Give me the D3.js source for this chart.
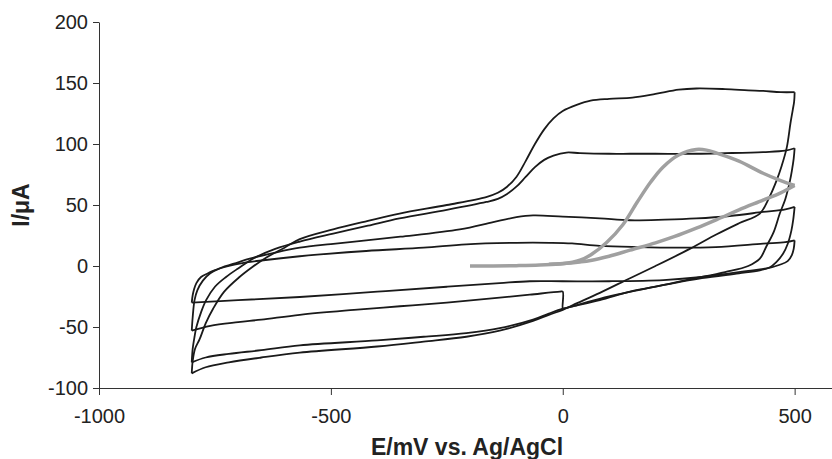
<!DOCTYPE html>
<html>
<head>
<meta charset="utf-8">
<script src="https://cdn.jsdelivr.net/npm/d3@7"></script>
<style>
  body { margin: 0; background: #fff; }
  svg { display: block; }
</style>
</head>
<body>
<script>

// tick values
const xTicks = [-1000, -500, 0, 500];
const yTicks = [-100, -50, 0, 50, 100, 150, 200];

// cyclic voltammograms, [E (mV), I (uA)]
const loopA_anodic = [[-800,-88],[-798,-78],[-793,-68],[-783,-60],[-770,-47],[-754,-35],[-730,-21],[-697,-9],[-670,-1],[-639,7],[-600,15],[-567,22],[-495,30],[-420,37],[-352,43],[-250,50],[-165,56.5],[-140,60],[-120,65],[-100,73],[-80,86],[-60,100],[-40,112],[-20,121],[0,127],[30,132],[60,135.5],[100,137],[150,138],[200,141],[250,144.5],[288,145.5],[350,145],[400,144],[432,143.5],[470,142.5],[500,142.5]];
const loopA_cathodic = [[500,142.5],[499,135],[496,128],[491,117],[483,97],[472,82],[461,70],[445,56],[425,43],[380,35],[332,26],[274,14],[200,0],[145,-10],[80,-22],[22,-32],[0,-36],[-30,-40],[-64,-45],[-136,-53],[-208,-58],[-300,-62],[-400,-66],[-567,-71],[-650,-75],[-720,-79],[-770,-83],[-800,-88]];

const loopB_anodic = [[-800,-79],[-798,-68],[-794,-58],[-790,-50],[-780,-38],[-769,-28],[-750,-17],[-726,-9],[-700,-2],[-668,6],[-620,14],[-567,20],[-495,26.5],[-420,33],[-352,39],[-250,46],[-165,52.5],[-140,55],[-120,59],[-100,65],[-80,73],[-60,81],[-40,87],[-20,90.5],[8,93],[37,92.5],[100,92],[145,92],[200,92],[288,92],[350,92.5],[432,93.4],[480,94.5],[500,96.5]];
const loopB_cathodic = [[500,96.5],[498,88],[494,78],[490,70],[480,55],[468,43],[455,28],[439,16],[425,6],[400,0],[350,-5],[274,-11],[200,-17],[145,-21],[80,-28],[22,-33],[0,-35],[-30,-39],[-64,-44],[-136,-51],[-208,-55],[-300,-58],[-400,-61],[-567,-65],[-650,-69],[-720,-72],[-770,-75],[-800,-79]];

const loopC_anodic = [[-800,-53],[-798,-42],[-794,-28],[-788,-20],[-776,-12],[-760,-6],[-740,-2],[-700,3],[-675,6],[-620,11],[-567,15],[-500,18],[-424,21],[-350,24],[-222,30],[-150,36],[-100,40],[-64,41.5],[0,40.5],[80,39],[145,37.5],[220,38],[288,39],[360,41],[432,44.3],[480,46.5],[500,48.5]];
const loopC_cathodic = [[500,48.5],[497,38],[493,29],[485,18],[475,10],[460,3],[447,-1],[425,-3.5],[380,-6],[300,-10],[200,-17],[100,-25],[40,-31],[2,-35],[0,-35],[0,-21],[-6,-21],[-71,-23.5],[-136,-26],[-250,-30],[-351,-33],[-450,-36],[-567,-40],[-650,-44],[-700,-46],[-760,-49],[-800,-53]];

const loopD_anodic = [[-800,-30],[-798,-24],[-795,-19],[-790,-14],[-780,-9],[-765,-6],[-754,-4],[-720,0],[-697,2],[-650,4.5],[-567,8],[-424,12.3],[-300,15],[-208,17.8],[-100,19],[-28,19],[20,18.5],[80,16.5],[160,15.5],[252,15],[330,15.5],[432,18.3],[480,19.5],[500,21]];
const loopD_cathodic = [[500,21],[498,14],[494,9],[485,4],[468,1],[440,-2],[400,-4],[360,-6],[300,-9],[217,-11.5],[100,-12.5],[0,-12.5],[-71,-12.5],[-136,-14],[-250,-17],[-400,-21],[-567,-25.4],[-700,-28],[-800,-30]];

// grey trace
const grey_forward = [[-200,0],[-150,0],[-100,0.3],[-50,0.8],[0,1.8],[37,4.7],[60,9],[94,19],[130,34],[160,52],[190,69],[216,81],[250,91],[288,95.5],[310,95],[332,92.5],[380,86],[432,76],[470,70],[500,66]];
const grey_reverse = [[500,66],[470,60],[432,54],[380,46],[332,38],[288,31],[240,24],[200,19],[145,13],[100,8],[60,4.5],[37,3.3],[0,2],[-30,1.5]];

const blackBranches = [loopA_anodic, loopA_cathodic, loopB_anodic, loopB_cathodic,
                       loopC_anodic, loopC_cathodic, loopD_anodic, loopD_cathodic];
const greyBranches = [grey_forward, grey_reverse];

var width = 832, height = 459;
var svg = d3.select("body").append("svg").attr("width", width).attr("height", height);

var x = d3.scaleLinear().domain([-1000, 600]).range([99, 841]);
var y = d3.scaleLinear().domain([-100, 200]).range([388, 22]);

var line = d3.line()
    .x(function (d) { return x(d[0]); })
    .y(function (d) { return y(d[1]); })
    .curve(d3.curveCatmullRom.alpha(0.5));

// axes
svg.append("g")
    .attr("transform", "translate(0," + y(-100) + ")")
    .call(d3.axisBottom(x).tickValues(xTicks).tickSize(7).tickSizeOuter(0).tickPadding(14));

svg.append("g")
    .attr("transform", "translate(" + x(-1000) + ",0)")
    .call(d3.axisLeft(y).tickValues(yTicks).tickSize(6).tickSizeOuter(0).tickPadding(5));

svg.selectAll(".domain, .tick line").attr("stroke", "#333").attr("stroke-width", 1);
svg.selectAll(".tick text")
    .attr("fill", "#222")
    .style("font-family", "'Liberation Sans', Arial, sans-serif")
    .style("font-size", "20px")
    .text(function (d) { return String(d); });

// curves
svg.append("g").selectAll("path.cv")
    .data(blackBranches)
    .enter().append("path")
    .attr("class", "cv")
    .attr("d", line)
    .attr("fill", "none")
    .attr("stroke", "#1a1a1a")
    .attr("stroke-width", 1.8);

svg.append("g").selectAll("path.grey")
    .data(greyBranches)
    .enter().append("path")
    .attr("class", "grey")
    .attr("d", line)
    .attr("fill", "none")
    .attr("stroke", "#a0a0a0")
    .attr("stroke-width", 3.5)
    .attr("stroke-linejoin", "round");

// axis titles
svg.append("text")
    .attr("x", 467)
    .attr("y", 455)
    .attr("text-anchor", "middle")
    .style("font-family", "'Liberation Sans', Arial, sans-serif")
    .style("font-weight", "bold")
    .style("font-size", "23px")
    .attr("fill", "#222")
    .text("E/mV vs. Ag/AgCl");

svg.append("text")
    .attr("transform", "translate(29,205) rotate(-90)")
    .attr("text-anchor", "middle")
    .style("font-family", "'Liberation Sans', Arial, sans-serif")
    .style("font-weight", "bold")
    .style("font-size", "23px")
    .attr("fill", "#222")
    .text("I/μA");

</script>
</body>
</html>
